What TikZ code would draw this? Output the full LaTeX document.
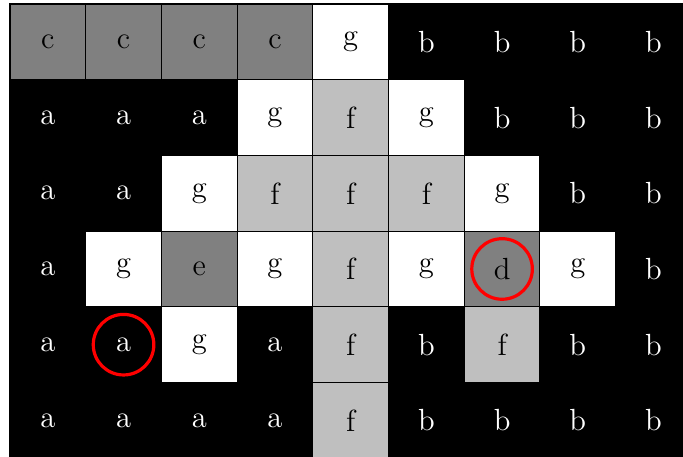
\documentclass[tikz,border=0pt]{standalone}
\usetikzlibrary{positioning}

\begin{document}
\begin{tikzpicture}[
    cell/.style={draw=black, line width=0.4pt, minimum size=1cm, inner sep=0pt, outer sep=0pt, font=\fontsize{11.5}{13}\selectfont},
    cell a/.style={cell, fill=black, text=white},
    cell b/.style={cell, fill=black, text=white},
    cell c/.style={cell, fill=black!50},
    cell d/.style={cell, fill=black!50},
    cell e/.style={cell, fill=black!50},
    cell f/.style={cell, fill=black!25},
    cell g/.style={cell, fill=white},
    hilite/.style={circle, draw=red, line width=1.2pt, minimum size=0.8cm, inner sep=0pt}
]
\useasboundingbox (-0.132,0.029) rectangle (8.890,6.053);
\foreach \row [count=\r from 0] in {{c,c,c,c,g,b,b,b,b},{a,a,a,g,f,g,b,b,b},{a,a,g,f,f,f,g,b,b},{a,g,e,g,f,g,d,g,b},{a,a,g,a,f,b,f,b,b},{a,a,a,a,f,b,b,b,b}} {
  \foreach \lab [count=\c from 0] in \row {
    \node[cell \lab] (n-\r-\c) at (\c+0.5, 5.5-\r) {\lab};
  }
}
% marked cells
\node[hilite] (mark-a) at (n-4-1) {};
\node[hilite] (mark-d) at (n-3-6) {};
\end{tikzpicture}
\end{document}
